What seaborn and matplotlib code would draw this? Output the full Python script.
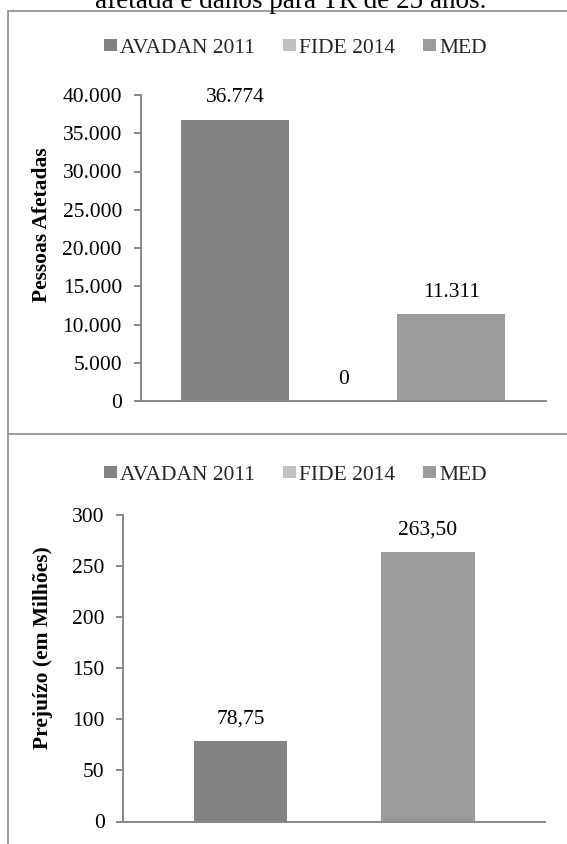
import numpy as np
import pandas as pd
import matplotlib
matplotlib.use("Agg")
import matplotlib.pyplot as plt
from matplotlib.lines import Line2D
import seaborn as sns

# Series and values
series = ["AVADAN 2011", "FIDE 2014", "MED"]
pessoas_afetadas = [36774, 0, 11311]
prejuizo_milhoes = [78.75, np.nan, 263.50]
pessoas_ticks = [0, 5000, 10000, 15000, 20000, 25000, 30000, 35000, 40000]
prejuizo_ticks = [0, 50, 100, 150, 200, 250, 300]
cores = {"AVADAN 2011": "#838383", "FIDE 2014": "#c0c0c0", "MED": "#9b9b9b"}

sns.set_theme(style="white")
plt.rcParams["font.family"] = ["Liberation Serif", "DejaVu Serif"]

W, H = 567, 844
fig = plt.figure(figsize=(W / 100, H / 100), dpi=100)

GRAY = "#878787"
FS = 15.5


def px_box(left, top, right, bottom):
    return [left / W, 1 - bottom / H, (right - left) / W, (bottom - top) / H]


def br_milhar(v):
    return f"{v:,.0f}".replace(",", ".")


def br_decimal(v):
    return f"{v:.2f}".replace(".", ",")


def painel(ax, valores, ticks, ymax, ylabel, fmt, largura, label_xy, legend_y):
    df = pd.DataFrame({"grupo": [""] * len(series), "serie": series, "valor": valores})
    sns.barplot(data=df, x="grupo", y="valor", hue="serie", hue_order=series,
                palette=cores, saturation=1, width=largura, errorbar=None,
                linewidth=0, ax=ax)
    ax.set_ylim(0, ymax)
    ax.set_yticks(ticks)
    ax.set_yticklabels([fmt(t) if fmt is br_milhar else f"{t:g}" for t in ticks],
                       fontsize=FS, color="black")
    ax.set_xticks([])
    ax.set_xlabel("")
    ax.set_ylabel(ylabel, fontsize=FS, fontweight="bold", color="black", va="center")
    ax.yaxis.set_label_coords(*label_xy)
    for s in ["top", "right"]:
        ax.spines[s].set_visible(False)
    for s in ["left", "bottom"]:
        ax.spines[s].set_color(GRAY)
        ax.spines[s].set_linewidth(1.4)
    ax.tick_params(axis="y", length=5, width=1.4, color=GRAY, pad=8.5, left=True)
    ax.set_facecolor("none")
    for c in ax.containers:
        vals = [v for v in c.datavalues]
        ax.bar_label(c, labels=[fmt(v) if not np.isnan(v) else "" for v in vals],
                     padding=9, fontsize=FS, color="black")
    sns.move_legend(ax, "center", bbox_to_anchor=(295.5 / W, 1 - legend_y / H),
                    bbox_transform=fig.transFigure, ncol=3, title=None,
                    frameon=False, handlelength=0.6, handleheight=0.5,
                    handletextpad=0.15, columnspacing=1.3, fontsize=FS,
                    borderpad=0, borderaxespad=0)


ax1 = fig.add_axes(px_box(140.7, 95, 545.7, 401))
painel(ax1, pessoas_afetadas, pessoas_ticks, 40000, "Pessoas Afetadas",
       br_milhar, 0.8, (-0.2437, 0.575), 48.5)

ax2 = fig.add_axes(px_box(123.3, 515, 545, 821.5))
painel(ax2, prejuizo_milhoes, prejuizo_ticks, 300, "Prejuízo (em Milhões)",
       br_decimal, 0.666, (-0.1904, 0.566), 475)

# Frame lines around the two chart panels
BORDER = "#8c8c8c"
for xs, ys in [((8, W), (11, 11)), ((8, 8), (11, H)), ((8, W), (434, 434))]:
    fig.add_artist(Line2D([x / W for x in xs], [1 - y / H for y in ys],
                          transform=fig.transFigure, color=BORDER, lw=1.2))

# Caption line above the panels
fig.text(290.5 / W, 1 - 7.5 / H, "afetada e danos para TR de 25 anos.",
         ha="center", va="baseline", fontsize=19.5, color="black")

fig.savefig("out.png", dpi=100)
